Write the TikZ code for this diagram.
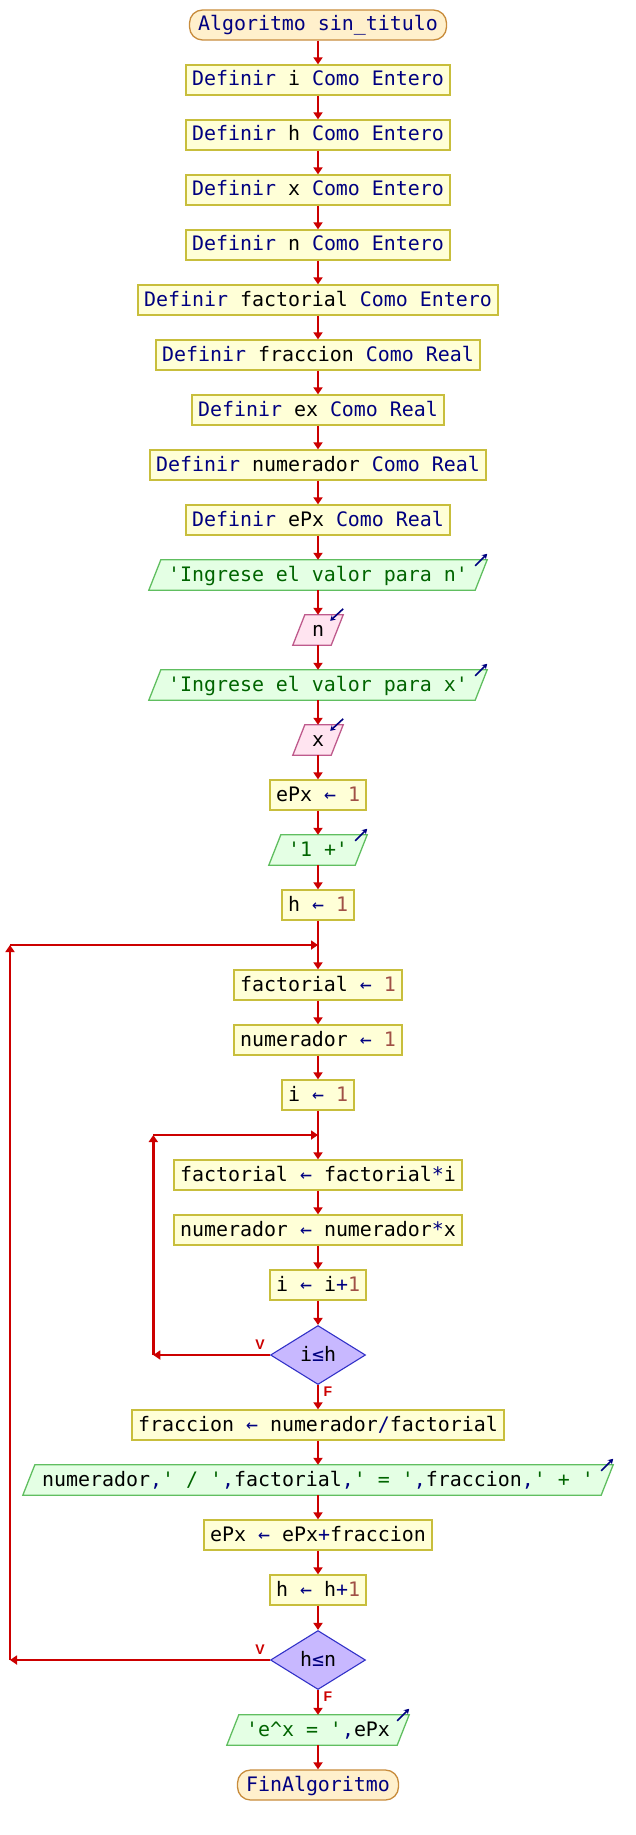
\documentclass[tikz,border=0pt]{standalone}
\usepackage{fontspec}
\setmonofont{DejaVu Sans Mono}
\newfontfamily\lblfont{Liberation Sans}
\usetikzlibrary{arrows.meta,shapes.geometric,calc,backgrounds}
\definecolor{procfill}{RGB}{255,255,215}
\definecolor{procdraw}{RGB}{200,190,60}
\definecolor{termfill}{RGB}{255,240,204}
\definecolor{termdraw}{RGB}{200,140,60}
\definecolor{outfill}{RGB}{228,255,228}
\definecolor{outdraw}{RGB}{96,190,96}
\definecolor{infill}{RGB}{255,228,240}
\definecolor{indraw}{RGB}{190,90,140}
\definecolor{decfill}{RGB}{200,184,255}
\definecolor{decdraw}{RGB}{50,50,200}
\definecolor{flowred}{RGB}{204,0,0}
\definecolor{kwnavy}{RGB}{0,0,128}
\definecolor{strgreen}{RGB}{0,100,0}
\definecolor{numbrown}{RGB}{160,80,70}
\newcommand{\KW}[1]{\textcolor{kwnavy}{#1}}
\newcommand{\ST}[1]{\textcolor{strgreen}{#1}}
\newcommand{\NB}[1]{\textcolor{numbrown}{#1}}
\newcommand{\OP}[1]{\textcolor{kwnavy}{#1}}
\newcommand{\AS}{\OP{←}}
\newcommand{\paraG}[2]{%
  \path[#2] ($(#1.south west)+(-13,0)$) -- ($(#1.north west)+(-1,0)$) -- ($(#1.north east)+(13,0)$) -- ($(#1.south east)+(1,0)$) -- cycle;}
\newcommand{\outArr}[1]{\draw[ioarrow] ($(#1.north east)+(1,6)$) -- ($(#1.north east)+(13,-6)$);}
\newcommand{\inArr}[1]{\draw[ioarrow] ($(#1.north east)+(13,-6)$) -- ($(#1.north east)+(0,6)$);}
\tikzset{
  base/.style={inner xsep=6pt, inner ysep=0pt, minimum height=30pt, text height=16pt, text depth=4pt,
    font=\ttfamily\fontsize{19.93}{24}\selectfont},
  proc/.style={base, rectangle, draw=procdraw, fill=procfill, line width=1.3pt},
  term/.style={base, rectangle, rounded corners=13pt, draw=termdraw, fill=termfill, line width=1.3pt, inner xsep=8.5pt},
  io/.style={base, rectangle},
  dec/.style={base, diamond, draw=decdraw, fill=decfill, line width=1.1pt, minimum width=95pt, minimum height=59pt, inner sep=0pt},
  flow/.style={draw=flowred, line width=2.4pt, -{Triangle[width=9pt,length=7pt]}},
  lbl/.style={text=flowred, font=\lblfont\bfseries\fontsize{14}{14}\selectfont, inner sep=0pt},
  outshape/.style={draw=outdraw, fill=outfill, line width=1.3pt},
  inshape/.style={draw=indraw, fill=infill, line width=1.3pt},
  ioarrow/.style={draw=kwnavy, line width=1.6pt, -{Stealth[length=5pt,width=6pt]}},
}
\begin{document}
\begin{tikzpicture}[x=1pt,y=-1pt]
\useasboundingbox (0,0) rectangle (636,1835);
\node[term] (start) at (318,25) {\KW{Algoritmo sin\_titulo}};
\node[proc] (d1) at (318,80) {\KW{Definir} i \KW{Como Entero}};
\node[proc] (d2) at (318,135) {\KW{Definir} h \KW{Como Entero}};
\node[proc] (d3) at (318,190) {\KW{Definir} x \KW{Como Entero}};
\node[proc] (d4) at (318,245) {\KW{Definir} n \KW{Como Entero}};
\node[proc] (d5) at (318,300) {\KW{Definir} factorial \KW{Como Entero}};
\node[proc] (d6) at (318,355) {\KW{Definir} fraccion \KW{Como Real}};
\node[proc] (d7) at (318,410) {\KW{Definir} ex \KW{Como Real}};
\node[proc] (d8) at (318,465) {\KW{Definir} numerador \KW{Como Real}};
\node[proc] (d9) at (318,520) {\KW{Definir} ePx \KW{Como Real}};
\node[io] (o1) at (318,575) {\ST{'Ingrese el valor para n'}};
\node[io] (i1) at (318,630) {n};
\node[io] (o2) at (318,685) {\ST{'Ingrese el valor para x'}};
\node[io] (i2) at (318,740) {x};
\node[proc] (a1) at (318,795) {ePx \AS{} \NB{1}};
\node[io] (o3) at (318,850) {\ST{'1 +'}};
\node[proc] (a2) at (318,905) {h \AS{} \NB{1}};
\node[proc] (a3) at (318,985) {factorial \AS{} \NB{1}};
\node[proc] (a4) at (318,1040) {numerador \AS{} \NB{1}};
\node[proc] (a5) at (318,1095) {i \AS{} \NB{1}};
\node[proc] (a6) at (318,1175) {factorial \AS{} factorial\OP{*}i};
\node[proc] (a7) at (318,1230) {numerador \AS{} numerador\OP{*}x};
\node[proc] (a8) at (318,1285) {i \AS{} i\OP{+}\NB{1}};
\node[dec] (q1) at (318,1355) {i\OP{≤}h};
\node[proc] (a9) at (318,1425) {fraccion \AS{} numerador\OP{/}factorial};
\node[io] (o4) at (318,1480) {numerador\OP{,}\ST{' / '}\OP{,}factorial\OP{,}\ST{' = '}\OP{,}fraccion\OP{,}\ST{' + '}};
\node[proc] (a10) at (318,1535) {ePx \AS{} ePx\OP{+}fraccion};
\node[proc] (a11) at (318,1590) {h \AS{} h\OP{+}\NB{1}};
\node[dec] (q2) at (318,1660) {h\OP{≤}n};
\node[io] (o5) at (318,1730) {\ST{'e\textasciicircum x = '}\OP{,}ePx};
\node[term] (end) at (318,1785) {\KW{FinAlgoritmo}};
\begin{scope}[on background layer]
\paraG{o1}{outshape}
\paraG{o2}{outshape}
\paraG{o3}{outshape}
\paraG{o4}{outshape}
\paraG{o5}{outshape}
\paraG{i1}{inshape}
\paraG{i2}{inshape}
\end{scope}
\outArr{o1}
\outArr{o2}
\outArr{o3}
\outArr{o4}
\outArr{o5}
\inArr{i1}
\inArr{i2}
\coordinate (c1) at (153.3,1355);
\coordinate (c2) at (153.3,1135);
\coordinate (c3) at (318,1135);
\coordinate (c4) at (10,1660);
\coordinate (c5) at (10,945);
\coordinate (c6) at (318,945);
\draw[flow] (start) -- (d1);
\draw[flow] (d1) -- (d2);
\draw[flow] (d2) -- (d3);
\draw[flow] (d3) -- (d4);
\draw[flow] (d4) -- (d5);
\draw[flow] (d5) -- (d6);
\draw[flow] (d6) -- (d7);
\draw[flow] (d7) -- (d8);
\draw[flow] (d8) -- (d9);
\draw[flow] (d9) -- (o1);
\draw[flow] (o1) -- (i1);
\draw[flow] (i1) -- (o2);
\draw[flow] (o2) -- (i2);
\draw[flow] (i2) -- (a1);
\draw[flow] (a1) -- (o3);
\draw[flow] (o3) -- (a2);
\draw[flow] (a2) -- (a3);
\draw[flow] (a3) -- (a4);
\draw[flow] (a4) -- (a5);
\draw[flow] (a5) -- (a6);
\draw[flow] (a6) -- (a7);
\draw[flow] (a7) -- (a8);
\draw[flow] (a8) -- (q1.north);
\draw[flow] (q1.south) -- (a9);
\draw[flow] (a9) -- (o4);
\draw[flow] (o4) -- (a10);
\draw[flow] (a10) -- (a11);
\draw[flow] (a11) -- (q2.north);
\draw[flow] (q2.south) -- (o5);
\draw[flow] (o5) -- (end);
\draw[flow] (q1.west) -- (c1);
\draw[flow] (c1) -- (c2);
\draw[flow] (c2) -- (c3);
\draw[flow] (q2.west) -- (c4);
\draw[flow] (c4) -- (c5);
\draw[flow] (c5) -- (c6);
\node[lbl] (v1) at (260,1345) {V};
\node[lbl] (f1) at (328,1392) {F};
\node[lbl] (v2) at (260,1650) {V};
\node[lbl] (f2) at (328,1697) {F};
\end{tikzpicture}
\end{document}
